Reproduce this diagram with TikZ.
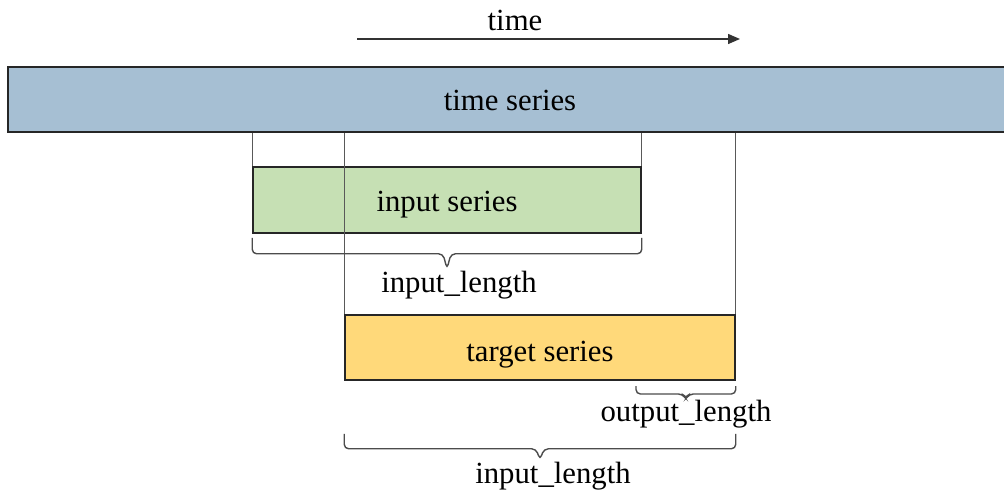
\documentclass[tikz,border=0pt]{standalone}
\usepackage{fontspec}
\setmainfont{Liberation Serif}
\usepackage{xcolor}
\usepackage{tikz}
\usetikzlibrary{arrows.meta, positioning, calc}

\definecolor{seriesblue}{HTML}{A6BFD3}
\definecolor{inputgreen}{HTML}{C6E0B4}
\definecolor{targetyellow}{HTML}{FFD97A}

\begin{document}
\begin{tikzpicture}[
    x=0.02cm, y=-0.02cm,
    seriesbox/.style={rectangle, draw=black!85, line width=0.9pt, inner sep=0pt, text height=0.46cm, text depth=0pt, font=\fontsize{17.5}{20}\selectfont},
    guide/.style={draw=black!65, line width=0.8pt},
    arrow/.style={-{Triangle[length=2.4mm, width=2mm]}, line width=0.8pt, black!80},
    bracket/.style={draw=black!70, line width=0.8pt, rounded corners=2.5pt},
    lbl/.style={font=\fontsize{17.5}{20}\selectfont, inner sep=0pt}
]
\useasboundingbox (0,0) rectangle (1004,493);

% Time axis
\coordinate (tstart) at (357,39);
\coordinate (tend) at (740,39);
\draw[arrow] (tstart) -- (tend);
\node[lbl] (timelbl) at (515,20) {time};

% Boxes
\node[seriesbox, fill=seriesblue, minimum width=20.08cm, minimum height=1.3cm] (ts) at (510,99.5) {time series};
\node[seriesbox, fill=inputgreen, minimum width=7.76cm, minimum height=1.32cm, text height=0.45cm] (input) at (447,200) {input series};
\node[seriesbox, fill=targetyellow, minimum width=7.8cm, minimum height=1.3cm, text height=0.58cm] (target) at (540,347.5) {target series};

% Guides
\draw[guide] (input.north west) -- (input.north west |- ts.south);
\draw[guide] (input.north east) -- (input.north east |- ts.south);
\draw[guide] (target.north west) -- (target.north west |- ts.south);
\draw[guide] (target.north east) -- (target.north east |- ts.south);

% Spans
\coordinate (inl) at ([yshift=-0.08cm]input.south west);
\coordinate (inr) at ([yshift=-0.08cm]input.south east);
\draw[bracket] (inl) -- ++(0,16) -- ($(inl)!0.5!(inr)+(-4,16)$) -- ($(inl)!0.5!(inr)+(0,31)$)
    -- ($(inl)!0.5!(inr)+(4,16)$) -- ($(inr)+(0,16)$) -- (inr);
\node[lbl] (inlen) at (459,285) {input\_length};

\coordinate (oll) at (636,386);
\coordinate (olr) at (oll -| target.south east);
\draw[bracket] (oll) -- ++(0,8) -- ($(oll)!0.5!(olr)+(-3,8)$) -- ($(oll)!0.5!(olr)+(0,13)$)
    -- ($(oll)!0.5!(olr)+(3,8)$) -- ($(olr)+(0,8)$) -- (olr);
\node[lbl] (outlen) at (686,414) {output\_length};

\coordinate (tgl) at ([yshift=-1.06cm]target.south west);
\coordinate (tgr) at ([yshift=-1.06cm]target.south east);
\draw[bracket] (tgl) -- ++(0,15) -- ($(tgl)!0.5!(tgr)+(-4,15)$) -- ($(tgl)!0.5!(tgr)+(0,26)$)
    -- ($(tgl)!0.5!(tgr)+(4,15)$) -- ($(tgr)+(0,15)$) -- (tgr);
\node[lbl] (tgtlen) at (553,476) {input\_length};

\end{tikzpicture}
\end{document}
